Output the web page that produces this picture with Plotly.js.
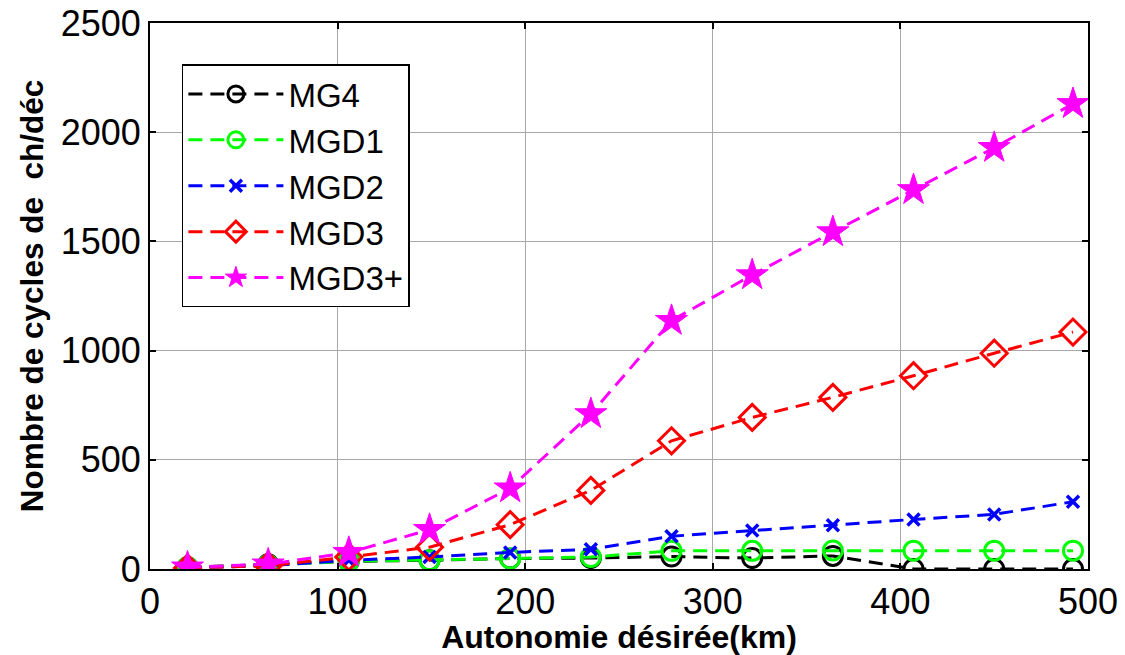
<!DOCTYPE html>
<html>
<head>
<meta charset="utf-8">
<script src="https://cdn.plot.ly/plotly-3.0.1.min.js"></script>
<style>html,body{margin:0;padding:0;background:#fff;}#chart{width:1125px;height:655px;}</style>
</head>
<body>
<div id="chart"></div>
<script>
const autonomie = [20, 63, 106, 149, 192, 235, 278, 321, 364, 407, 450, 492];
const MG4   = [8, 22, 35, 40, 48, 50, 57, 50, 60, 0, 0, 0];
const MGD1  = [8, 18, 35, 40, 48, 55, 83, 83, 85, 84, 84, 84];
const MGD2  = [5, 15, 40, 55, 76, 90, 150, 176, 200, 227, 250, 308];
const MGD3  = [5, 15, 55, 100, 203, 360, 587, 694, 786, 885, 988, 1085];
const MGD3p = [8, 22, 75, 180, 370, 710, 1137, 1346, 1543, 1736, 1929, 2130];
const seriesNames = ['MG4', 'MGD1', 'MGD2', 'MGD3', 'MGD3+'];
const xTicks = [0, 100, 200, 300, 400, 500];
const yTicks = [0, 500, 1000, 1500, 2000, 2500];

const dashPat = '14px,8px';
function tr(name, y, color, symbol, size, lw) {
  return {
    x: autonomie, y: y, name: name, type: 'scatter', mode: 'lines+markers',
    line: {color: color, width: 3, dash: dashPat},
    marker: {symbol: symbol, size: size, color: color, line: {color: color, width: lw}}
  };
}
const data = [
  tr(seriesNames[0], MG4, '#000000', 'circle-open', 19, 3),
  tr(seriesNames[1], MGD1, '#00ff00', 'circle-open', 19, 3),
  tr(seriesNames[2], MGD2, '#0000ff', 'x-thin-open', 12, 3.5),
  tr(seriesNames[3], MGD3, '#ff0000', 'diamond-open', 20, 3),
  tr(seriesNames[4], MGD3p, '#ff00ff', 'star', 24, 1)
];

const FONT = 'Liberation Sans, Arial, sans-serif';
const axisCommon = {
  showline: true, linecolor: '#000', linewidth: 2, mirror: 'ticks',
  ticks: 'inside', ticklen: 6, tickwidth: 2, tickcolor: '#000',
  showgrid: true, gridcolor: '#a8a8a8', gridwidth: 1, zeroline: false,
  tickfont: {family: FONT, size: 36, color: '#000'}
};
const layout = {
  width: 1125, height: 655,
  margin: {l: 150, r: 37, t: 23, b: 86},
  paper_bgcolor: '#fff', plot_bgcolor: '#fff',
  showlegend: true,
  legend: {
    x: 0.034, y: 0.924, xanchor: 'left', yanchor: 'top',
    bgcolor: '#fff', bordercolor: '#000', borderwidth: 1.5,
    font: {family: FONT, size: 33, color: '#000'},
    itemwidth: 95
  },
  xaxis: Object.assign({}, axisCommon, {
    range: [0, 500], tickvals: xTicks, ticktext: xTicks.map(String),
    title: {text: 'Autonomie désirée(km)', standoff: 2,
      font: {family: FONT, size: 32, color: '#000', weight: 'bold'}}
  }),
  yaxis: Object.assign({}, axisCommon, {
    range: [0, 2500], tickvals: yTicks, ticktext: yTicks.map(String),
    title: {text: 'Nombre de cycles de  ch/déc', standoff: 8,
      font: {family: FONT, size: 31.5, color: '#000', weight: 'bold'}}
  })
};
Plotly.newPlot('chart', data, layout, {displayModeBar: false, staticPlot: true});
</script>
</body>
</html>
